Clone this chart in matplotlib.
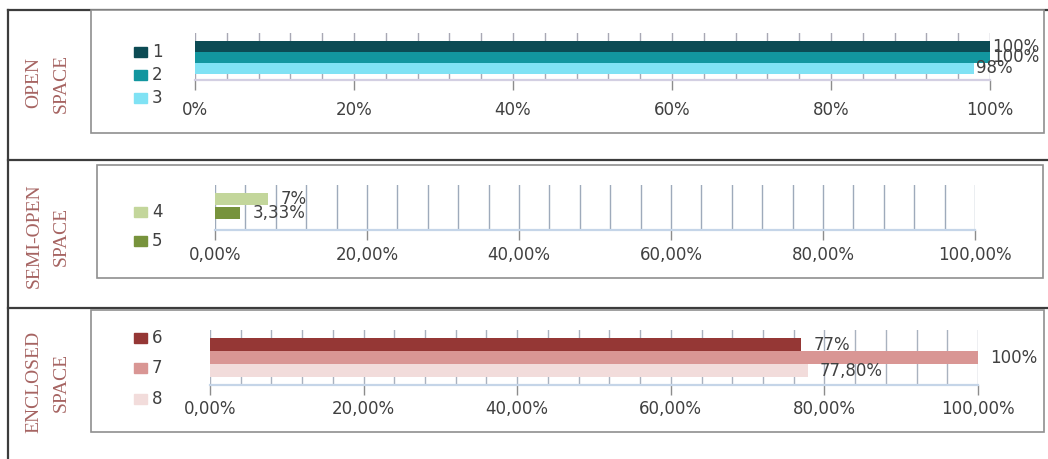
import numpy as np
import matplotlib.pyplot as plt
from matplotlib.patches import Rectangle
from matplotlib.lines import Line2D
from matplotlib.ticker import MultipleLocator, FuncFormatter

# data
open_labels = ['1', '2', '3']
open_values = [1.00, 1.00, 0.98]
open_text = ['100%', '100%', '98%']

semi_labels = ['4', '5']
semi_values = [0.07, 0.0333]
semi_text = ['7%', '3,33%']

encl_labels = ['6', '7', '8']
encl_values = [0.77, 1.00, 0.778]
encl_text = ['77%', '100%', '77,80%']

row_titles = [('OPEN', 'SPACE'), ('SEMI-OPEN', 'SPACE'), ('ENCLOSED', 'SPACE')]

W, H = 1048, 459
TXT = '#404040'
plt.rcParams['font.family'] = 'DejaVu Sans'


def fx(x):
    return x / W


def fy(y):
    return 1 - y / H


def fig_box(x0, y0, x1, y1):
    return [x0 / W, 1 - y1 / H, (x1 - x0) / W, (y1 - y0) / H]


fig = plt.figure(figsize=(W / 100, H / 100), dpi=100)
fig.patch.set_facecolor('white')

# table lines
for x0, y0, x1, y1 in [(8, 10, 1048, 10), (8, 160, 1048, 160),
                       (8, 308, 1048, 308), (8, 10, 8, 459)]:
    fig.add_artist(Line2D([fx(x0), fx(x1)], [fy(y0), fy(y1)],
                          color='#3c3c3c', lw=1.6, zorder=-2))

# chart panels
for x0, y0, x1, y1 in [(91, 10, 1044, 133), (97, 165, 1043, 278), (91, 310, 1044, 432)]:
    fig.add_artist(Rectangle((fx(x0), fy(y1)), (x1 - x0) / W, (y1 - y0) / H,
                             transform=fig.transFigure, facecolor='white',
                             edgecolor='#8f8f8f', lw=1.2, zorder=-1))

# row titles
for (t1, t2), cy in zip(row_titles, [83, 236, 382]):
    fig.text(fx(34), fy(cy), t1, rotation=90, ha='center', va='center',
             family='Liberation Serif', fontsize=14, color='#a66462')
    fig.text(fx(61), fy(cy), t2, rotation=90, ha='center', va='center',
             family='Liberation Serif', fontsize=14, color='#a66462')


def pct0(v, pos):
    return f'{v * 100:.0f}%'


def pct2(v, pos):
    return f'{v * 100:.2f}%'.replace('.', ',')


def draw_row(box, labels, values, texts, colors, ylim, height, fmt, pad,
             dx, axis_color, grid_color, leg_y):
    ax = fig.add_axes(fig_box(*box))
    ax.patch.set_alpha(0)
    y = np.arange(len(values))
    ax.barh(y, values, height=height, color=colors, zorder=2)
    ax.set_xlim(0, 1)
    ax.set_ylim(*ylim)
    ax.xaxis.set_major_locator(MultipleLocator(0.2))
    ax.xaxis.set_minor_locator(MultipleLocator(0.04))
    ax.xaxis.set_major_formatter(FuncFormatter(fmt))
    ax.grid(axis='x', which='both', color=grid_color, lw=1)
    ax.set_axisbelow(True)
    for s in ['top', 'left', 'right']:
        ax.spines[s].set_visible(False)
    ax.spines['bottom'].set_color(axis_color)
    ax.spines['bottom'].set_linewidth(1.6)
    ax.set_yticks([])
    ax.tick_params(axis='x', which='major', length=7, width=1, color='#8c8c8c',
                   pad=pad, labelsize=12, labelcolor=TXT)
    ax.tick_params(axis='x', which='minor', length=0)
    for yi, v, t in zip(y, values, texts):
        ax.annotate(t, (v, yi), xytext=(dx, 0), textcoords='offset pixels',
                    va='center', ha='left', fontsize=12, color=TXT, zorder=3)
    # legend
    for lab, c, cy in zip(labels, colors, leg_y):
        fig.add_artist(Rectangle((fx(134), fy(cy + 5)), 13 / W, 10 / H,
                                 transform=fig.transFigure, color=c))
        fig.text(fx(152), fy(cy), lab, va='center', ha='left',
                 fontsize=12, color=TXT)
    return ax


draw_row((195, 33, 990, 80), open_labels, open_values, open_text,
         ['#0c4b54', '#12969f', '#80e2f4'], (3.05, -1.23), 1.0, pct0, 8,
         2, '#d3cfe2', '#a8a8b4', [52, 75, 98])

draw_row((215, 185, 975, 230), semi_labels, semi_values, semi_text,
         ['#c3d69b', '#77933c'], (2.21, -1.0), 0.86, pct2, 4.5,
         12, '#c5d5e8', '#9eaabb', [212, 241])

draw_row((210, 330, 978, 385), encl_labels, encl_values, encl_text,
         ['#953735', '#d99694', '#f2dcdb'], (3.08, -1.15), 1.0, pct2, 4,
         12, '#c5d5e8', '#a9b2bf', [338, 368, 399])

fig.savefig('out.png', dpi=100)
